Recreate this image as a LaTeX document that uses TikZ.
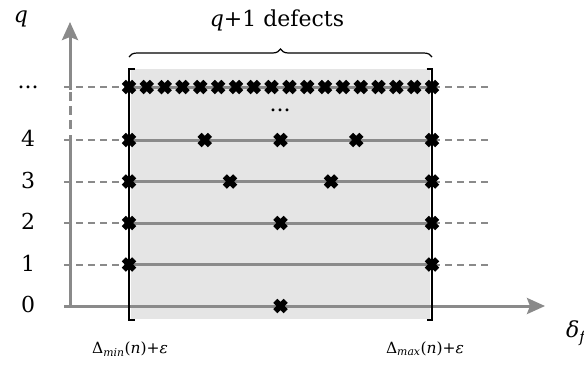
\documentclass[tikz,border=0pt]{standalone}
\usepackage{fontspec}
\setmainfont{DejaVu Serif}
\usetikzlibrary{arrows.meta,decorations.pathreplacing}
\definecolor{axisgray}{HTML}{8A8A8A}
\definecolor{boxgray}{HTML}{E5E5E5}
\begin{document}
\begin{tikzpicture}[x=1pt,y=-1pt,
  axis/.style={axisgray, line width=3pt},
  arrowaxis/.style={axis, -{Stealth[length=18pt 0, width=16pt 0, inset=3pt 0]}},
  guide/.style={axisgray, line width=2pt, dash pattern=on 7pt off 5pt},
  levelline/.style={axisgray, line width=3pt},
  bracketline/.style={black, line width=2.5pt},
  lbl/.style={font=\fontsize{22}{26}\selectfont, inner sep=0pt},
  smalllbl/.style={font=\fontsize{15.5}{18}\selectfont, inner sep=0pt},
  defect/.pic={\draw[black, line width=5.8pt] (-5.2,-5.2)--(5.2,5.2) (-5.2,5.2)--(5.2,-5.2);}
]
\useasboundingbox (0,0) rectangle (584,365);
% shaded region
\fill[boxgray] (131,69) rectangle (430,319);
% named coordinates
\coordinate (O) at (70,306);
\coordinate (ytip) at (70,22);
\coordinate (xstart) at (64,306);
\coordinate (xtip) at (545,306);
\coordinate (y4) at (70,135);
\coordinate (ytop) at (70,90);
% guides and level lines
\foreach \yy in {264.5,223,181.5,140,87}{
  \draw[guide] (64,\yy) -- (128,\yy);
  \draw[guide] (433,\yy) -- (492,\yy);
  \draw[levelline] (129,\yy) -- (432,\yy);
}
% axes
\draw[axis] (O) -- (y4);
\foreach \ya in {92,106,120} \draw[axis] (70,\ya) -- (70,\ya+9);
\draw[arrowaxis] (ytop) -- (ytip);
\draw[arrowaxis] (xstart) -- (xtip);
% brackets
\draw[bracketline] (134.5,69) -- (129,69) -- (129,320) -- (134.5,320);
\draw[bracketline] (426.5,69) -- (432,69) -- (432,320) -- (426.5,320);
% brace
\draw[decorate, decoration={brace, amplitude=8pt}, line width=1.2pt] (129,57) -- (432,57);
% defects
\pic at (280.5,306) {defect};
\foreach \xx in {129,432} \pic at (\xx,264.5) {defect};
\foreach \k in {0,1,2} \pic at ({129+151.5*\k},223) {defect};
\foreach \k in {0,1,2,3} \pic at ({129+101*\k},181.5) {defect};
\foreach \k in {0,...,4} \pic at ({129+75.75*\k},140) {defect};
\foreach \k in {0,...,17} \pic at ({129+303/17*\k},87) {defect};
% labels
\node[lbl] (qlab) at (21,19) {\textit{q}};
\node[lbl] (deflab) at (277,20) {\textit{q}+1 defects};
\node[lbl] (l0) at (28,304) {0};
\node[lbl] (l1) at (28,263) {1};
\node[lbl] (l2) at (28,221) {2};
\node[lbl] (l3) at (28,180) {3};
\node[lbl] (l4) at (28,138) {4};
\node[lbl] (ldots) at (28,87) {...};
\node[lbl] (mdots) at (280,110) {...};
\node[lbl] (dlab) at (577,333) {\textit{δ}\textsubscript{\textit{f}}};
\node[smalllbl] (minlab) at (130,349) {Δ\textsubscript{\textit{min}}(\textit{n})+\textit{ε}};
\node[smalllbl] (maxlab) at (425,349) {Δ\textsubscript{\textit{max}}(\textit{n})+\textit{ε}};
\end{tikzpicture}
\end{document}
